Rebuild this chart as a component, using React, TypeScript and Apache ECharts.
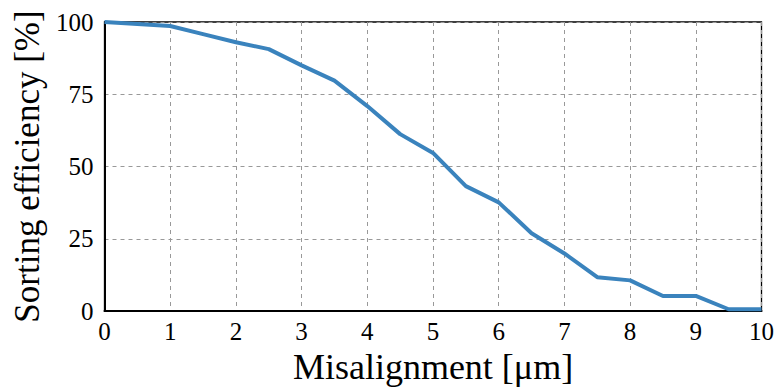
import React, { useEffect, useRef } from "react";
import * as echarts from "echarts";

const xValues = [0, 1, 1.5, 2, 2.5, 3, 3.5, 4, 4.5, 5, 5.5, 6, 6.5, 7, 7.5, 8, 8.5, 9, 9.5, 10];
const efficiency = [100, 98.6, 95.8, 93.0, 90.6, 85.0, 79.7, 70.9, 61.2, 54.7, 43.2, 37.6, 26.9, 19.9, 11.7, 10.6, 5.2, 5.2, 0.6, 0.6];
const xTicks = [0, 1, 2, 3, 4, 5, 6, 7, 8, 9, 10];
const yTicks = [0, 25, 50, 75, 100];

const FONT = "'Times New Roman', 'Liberation Serif', serif";

export default function App() {
  const ref = useRef<HTMLDivElement>(null);
  useEffect(() => {
    if (!ref.current) return;
    const chart = echarts.init(ref.current, undefined, { renderer: "svg" });
    chart.setOption({
      animation: false,
      textStyle: { fontFamily: FONT },
      grid: {
        left: 104.5,
        right: 12,
        top: 22,
        bottom: 76.5,
        show: true,
        borderColor: "#000",
        borderWidth: 1.3,
        backgroundColor: "transparent",
      },
      xAxis: {
        type: "value",
        min: xTicks[0],
        max: xTicks[xTicks.length - 1],
        interval: 1,
        name: "Misalignment [μm]",
        nameLocation: "middle",
        nameGap: 38,
        nameTextStyle: { fontFamily: FONT, fontSize: 36, color: "#000" },
        axisLine: { show: true, lineStyle: { color: "#000", width: 2 } },
        axisTick: { show: false },
        axisLabel: { fontFamily: FONT, fontSize: 25, color: "#000", margin: 8 },
        splitLine: { show: true, lineStyle: { color: "#999", type: [4, 4], width: 1 } },
      },
      yAxis: {
        type: "value",
        min: yTicks[0],
        max: yTicks[yTicks.length - 1],
        interval: 25,
        name: "Sorting efficiency [%]",
        nameLocation: "middle",
        nameGap: 57,
        nameTextStyle: { fontFamily: FONT, fontSize: 35, color: "#000" },
        axisLine: { show: true, lineStyle: { color: "#000", width: 2 } },
        axisTick: { show: false },
        axisLabel: { fontFamily: FONT, fontSize: 25, color: "#000", margin: 11 },
        splitLine: { show: true, lineStyle: { color: "#999", type: [4, 4], width: 1 } },
      },
      series: [
        {
          type: "line",
          data: xValues.map((x, i) => [x, efficiency[i]]),
          symbol: "none",
          lineStyle: { color: "#3a83bd", width: 4 },
          z: 3,
        },
      ],
    });
    return () => chart.dispose();
  }, []);
  return <div ref={ref} style={{ width: 777, height: 390, position: "absolute", left: 0, top: 0 }} />;
}
